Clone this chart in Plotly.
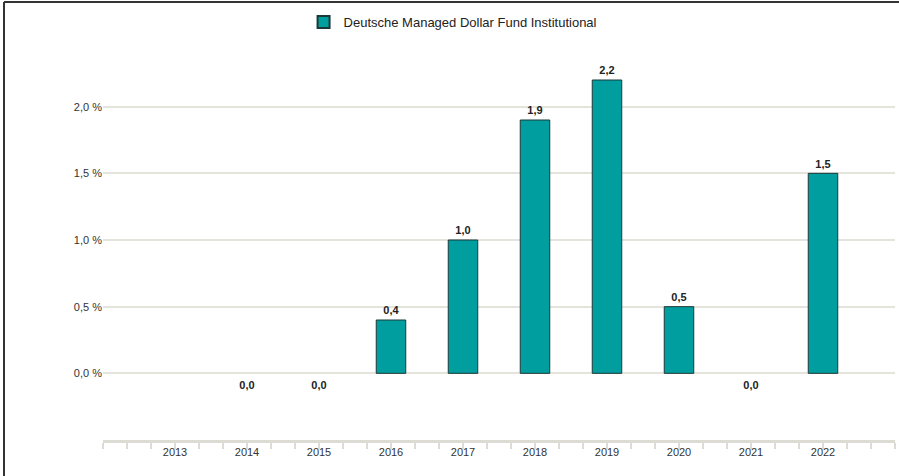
import plotly.graph_objects as go

years = [2013, 2014, 2015, 2016, 2017, 2018, 2019, 2020, 2021, 2022]
values = [None, 0.0, 0.0, 0.4, 1.0, 1.9, 2.2, 0.5, 0.0, 1.5]
series_name = "Deutsche Managed Dollar Fund Institutional"
y_ticks = [-0.5, 0.0, 0.5, 1.0, 1.5, 2.0, 2.5]
y_ticklabels = ["", "0,0 %", "0,5 %", "1,0 %", "1,5 %", "2,0 %", ""]

labels = ["" if v is None else f"{v:.1f}".replace(".", ",") for v in values]
is_zero = [v is not None and v == 0 for v in values]
positions = ["bottom center" if z else "top center" for z in is_zero]
offset_sizes = [10 if z else 3 for z in is_zero]
outline_w = [0 if (v is None or v == 0) else 1 for v in values]

fig = go.Figure()
fig.add_trace(go.Bar(
    x=years, y=values, name=series_name, width=0.41,
    marker=dict(color="#009e9e", line=dict(color="#1b3838", width=outline_w)),
    hoverinfo="skip",
))
fig.add_trace(go.Scatter(
    x=years, y=[0 if v is None else v for v in values], mode="markers+text",
    marker=dict(size=offset_sizes, opacity=0),
    text=labels, textposition=positions, showlegend=False,
    textfont=dict(family="Liberation Sans, Arial", size=11, color="#222", weight="bold"),
    hoverinfo="skip", cliponaxis=False,
))

fig.update_layout(
    width=899, height=476,
    margin=dict(l=103, r=4, t=40, b=36),
    paper_bgcolor="white", plot_bgcolor="white",
    font=dict(family="Liberation Sans, Arial", size=11, color="#333"),
    showlegend=True,
    legend=dict(orientation="h", x=0.442, xanchor="center", y=1.045, yanchor="middle",
                font=dict(size=13, color="#222"), itemsizing="constant"),
    xaxis=dict(
        range=[2012, 2023], tickmode="array", tickvals=years, ticktext=[str(y) for y in years],
        ticks="", showgrid=False, zeroline=False,
        showline=True, linecolor="#dcdcd4", linewidth=3,
        tickfont=dict(size=11, color="#333"),
        minor=dict(tick0=2012, dtick=1/3, ticks="outside", ticklen=6, tickwidth=2,
                   tickcolor="#dcdcd4", showgrid=False),
    ),
    yaxis=dict(
        range=[-0.5, 2.5], tickmode="array", tickvals=y_ticks, ticktext=y_ticklabels,
        showgrid=True, gridcolor="#e4e4dc", gridwidth=1.5, zeroline=False,
        ticks="", showline=False, tickfont=dict(size=11, color="#333"),
    ),
    shapes=[
        dict(type="line", xref="paper", yref="paper", x0=-0.125, x1=1.01, y0=1.095, y1=1.095,
             line=dict(color="#333", width=2)),
        dict(type="line", xref="paper", yref="paper", x0=-0.125, x1=-0.125, y0=1.095, y1=-0.2,
             line=dict(color="#333", width=2)),
    ],
)

fig.write_html("out.html", config={"displayModeBar": False},
               post_script="document.body.style.margin='0';")
